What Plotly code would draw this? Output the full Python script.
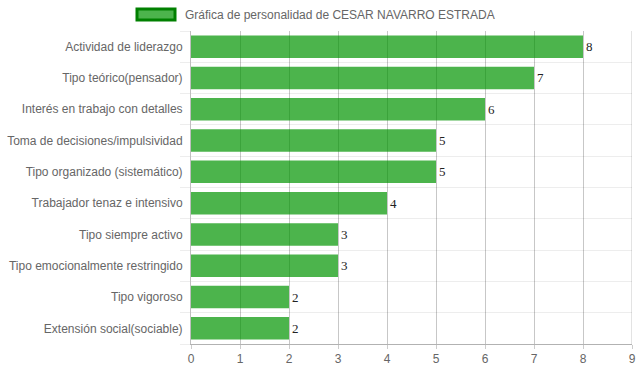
import plotly.graph_objects as go

categories = [
    "Actividad de liderazgo",
    "Tipo teórico(pensador)",
    "Interés en trabajo con detalles",
    "Toma de decisiones/impulsividad",
    "Tipo organizado (sistemático)",
    "Trabajador tenaz e intensivo",
    "Tipo siempre activo",
    "Tipo emocionalmente restringido",
    "Tipo vigoroso",
    "Extensión social(sociable)",
]
values = [8, 7, 6, 5, 5, 4, 3, 3, 2, 2]
series_name = "Gráfica de personalidad de CESAR NAVARRO ESTRADA"
x_ticks = list(range(0, 10))

fill = "rgba(0,148,0,0.7)"
border = "rgb(0,128,0)"

positions = list(range(len(categories)))

fig = go.Figure()
fig.add_trace(go.Bar(
    x=values,
    y=positions,
    orientation="h",
    name=series_name,
    marker=dict(color=fill, line=dict(width=0)),
    text=[str(v) for v in values],
    textposition="outside",
    cliponaxis=False,
    textfont=dict(family="Liberation Serif, Times New Roman, serif", size=13, color="#222"),
    showlegend=False,
    hoverinfo="x+y",
))

fig.update_layout(
    width=639,
    height=372,
    margin=dict(l=191, r=7, t=31, b=28, autoexpand=False),
    paper_bgcolor="white",
    plot_bgcolor="white",
    bargap=0.28,
    font=dict(family="Liberation Sans, Arial, sans-serif", size=12, color="#666"),
    xaxis=dict(
        range=[0, 9],
        tickvals=x_ticks,
        showgrid=True,
        gridcolor="rgba(0,0,0,0.22)",
        gridwidth=1,
        zeroline=False,
        showline=True,
        linecolor="rgba(0,0,0,0.3)",
        ticks="outside",
        ticklen=4,
        tickcolor="rgba(0,0,0,0.2)",
        tickfont=dict(size=12, color="#666"),
        layer="above traces",
        automargin=False,
    ),
    yaxis=dict(
        range=[len(categories) - 0.5, -0.5],
        tickvals=positions,
        ticktext=categories,
        showgrid=False,
        zeroline=False,
        showline=True,
        linecolor="rgba(0,0,0,0.25)",
        ticks="",
        ticklabelstandoff=5,
        tickfont=dict(size=12, color="#666"),
        automargin=False,
        minor=dict(
            tickvals=[p + 0.5 for p in positions] + [-0.5],
            showgrid=True,
            gridcolor="rgba(0,0,0,0.07)",
            gridwidth=1,
            ticks="outside",
            ticklen=10,
            tickcolor="rgba(0,0,0,0.07)",
        ),
    ),
)

# right edge gridline (x = 9), which Plotly omits at the range boundary
fig.add_shape(
    type="line", xref="x", yref="paper",
    x0=9, x1=9, y0=0, y1=1,
    line=dict(color="rgba(0,0,0,0.22)", width=1),
)

# legend box drawn as a Chart.js style wide swatch
fig.add_shape(
    type="rect", xref="paper", yref="paper",
    x0=-(191 - 137) / 441, x1=-(191 - 175) / 441,
    y0=1 + (31 - 20) / 313, y1=1 + (31 - 9) / 313,
    fillcolor=fill, line=dict(color=border, width=3),
)
fig.add_annotation(
    xref="paper", yref="paper",
    x=-(191 - 183) / 441, y=1 + (31 - 14.5) / 313,
    text=series_name, showarrow=False,
    xanchor="left", yanchor="middle",
    font=dict(size=12, color="#666"),
)

fig.write_html(
    "out.html",
    config={"displayModeBar": False},
    post_script="document.body.style.margin='0';document.body.style.overflow='hidden';",
)
